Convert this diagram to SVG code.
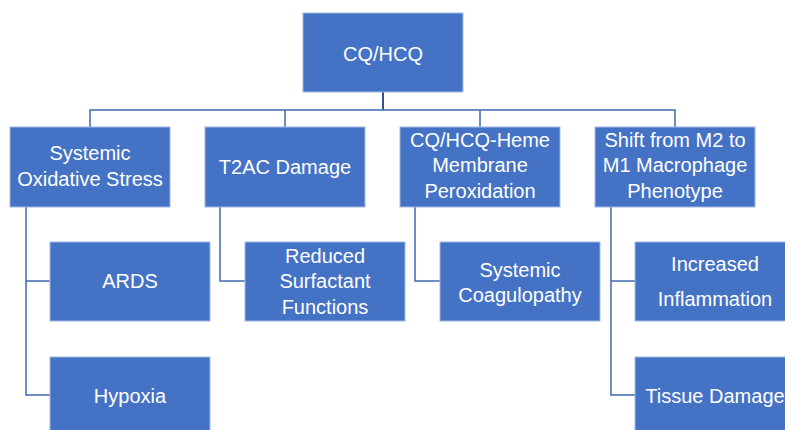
<svg xmlns="http://www.w3.org/2000/svg" width="785" height="430" viewBox="0 0 785 430">
<style>
.box{fill:#4472C4;stroke:#A3B8E2;stroke-width:1}
.t{font-family:"Liberation Sans",Arial,sans-serif;font-size:20px;fill:#ffffff;text-anchor:middle}
.c{fill:none;stroke:#4068B2;stroke-width:1.5}
</style>
<rect width="785" height="430" fill="#ffffff"/>
<g id="connectors">
<path class="c" d="M383 92V110" style="stroke:#2F5597;stroke-width:2"/>
<path class="c" d="M90 127V110H675V127M285 110V127M480 110V127"/>
<path class="c" d="M26 207V395H50M26 281H50"/>
<path class="c" d="M220 207V281H245"/>
<path class="c" d="M415 207V281H440"/>
<path class="c" d="M611 207V395H635M611 281H635"/>
</g>
<g id="root"><rect class="box" x="303" y="13" width="160" height="79"/><text class="t" x="383" y="61">CQ/HCQ</text></g>
<g id="n1"><rect class="box" x="10" y="127" width="160" height="80"/><text class="t" x="90" y="160">Systemic</text><text class="t" x="90" y="186">Oxidative Stress</text></g>
<g id="n2"><rect class="box" x="205" y="127" width="160" height="80"/><text class="t" x="285" y="174">T2AC Damage</text></g>
<g id="n3"><rect class="box" x="400" y="127" width="160" height="80"/><text class="t" x="480" y="147">CQ/HCQ-Heme</text><text class="t" x="480" y="172">Membrane</text><text class="t" x="480" y="198">Peroxidation</text></g>
<g id="n4"><rect class="box" x="595" y="127" width="160" height="80"/><text class="t" x="675" y="147">Shift from M2 to</text><text class="t" x="675" y="172">M1 Macrophage</text><text class="t" x="675" y="198">Phenotype</text></g>
<g id="n1a"><rect class="box" x="50" y="242" width="160" height="79"/><text class="t" x="130" y="288">ARDS</text></g>
<g id="n1b"><rect class="box" x="50" y="357" width="160" height="79"/><text class="t" x="130" y="403">Hypoxia</text></g>
<g id="n2a"><rect class="box" x="245" y="242" width="160" height="79"/><text class="t" x="325" y="263">Reduced</text><text class="t" x="325" y="288">Surfactant</text><text class="t" x="325" y="314">Functions</text></g>
<g id="n3a"><rect class="box" x="440" y="242" width="160" height="79"/><text class="t" x="520" y="277">Systemic</text><text class="t" x="520" y="302">Coagulopathy</text></g>
<g id="n4a"><rect class="box" x="635" y="242" width="160" height="79"/><text class="t" x="715" y="271">Increased</text><text class="t" x="715" y="306">Inflammation</text></g>
<g id="n4b"><rect class="box" x="635" y="357" width="160" height="79"/><text class="t" x="715" y="403">Tissue Damage</text></g>
</svg>
